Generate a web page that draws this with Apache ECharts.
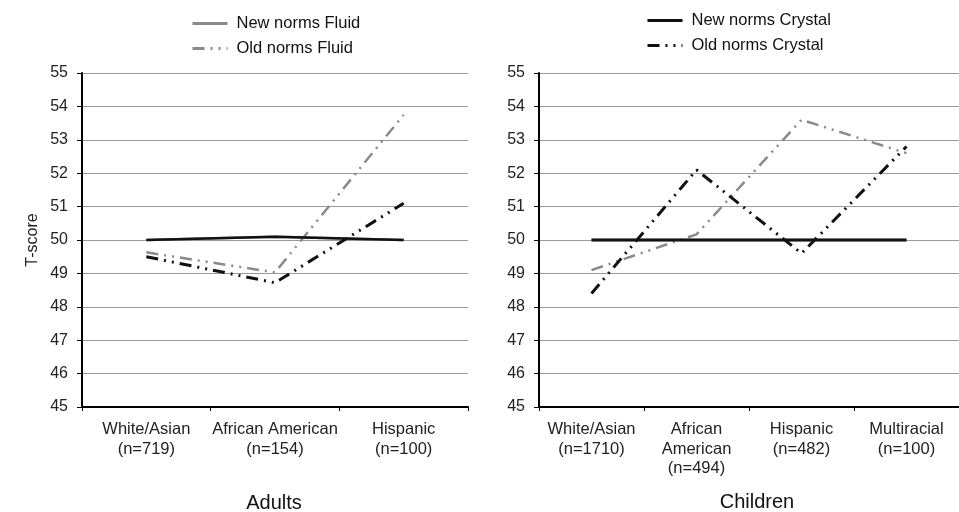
<!DOCTYPE html>
<html>
<head>
<meta charset="utf-8">
<script src="https://cdn.jsdelivr.net/npm/echarts@6/dist/echarts.min.js"></script>
<style>
  html, body { margin: 0; padding: 0; background: #fff; }
  #main { width: 959px; height: 512px; }
</style>
</head>
<body>
<div id="main"></div>
<script>
// categories
const adultCats = ['White/Asian\n(n=719)', 'African American\n(n=154)', 'Hispanic\n(n=100)'];
const childCats = ['White/Asian\n(n=1710)', 'African\nAmerican\n(n=494)', 'Hispanic\n(n=482)', 'Multiracial\n(n=100)'];

// adults
const adultNewFluid = [50, 50.1, 50];
const adultOldFluid = [49.63, 49.03, 53.75];
const adultNewCrystal = [50, 50.1, 50];
const adultOldCrystal = [49.5, 48.72, 51.1];

// children
const childNewFluid = [50, 50, 50, 50];
const childOldFluid = [49.1, 50.17, 53.6, 52.6];
const childNewCrystal = [50, 50, 50, 50];
const childOldCrystal = [48.4, 52.1, 49.6, 52.8];

const yTicks = [45, 55, 1];

const chart = echarts.init(document.getElementById('main'));

const gray = '#8a8a8a';
const black = '#111';
const dashDot = [12, 6, 2, 6, 2, 6];
const font = 'Liberation Sans, Arial, sans-serif';

function yAxis(gridIndex, withName) {
  return {
    type: 'value', gridIndex: gridIndex,
    min: yTicks[0], max: yTicks[1], interval: yTicks[2],
    name: withName ? 'T-score' : '',
    nameLocation: 'middle', nameGap: 41, nameRotate: 90,
    nameTextStyle: { color: '#222', fontSize: 16, fontFamily: font },
    axisLine: { show: true, lineStyle: { color: '#000', width: 2 } },
    axisTick: { show: true, length: 5, lineStyle: { color: '#000', width: 1 } },
    axisLabel: { color: '#222', fontSize: 16, fontFamily: font, margin: 14 },
    splitLine: { show: true, lineStyle: { color: '#9a9a9a', width: 1 } }
  };
}

function xAxis(gridIndex, cats) {
  return {
    type: 'category', gridIndex: gridIndex, data: cats, boundaryGap: true,
    axisLine: { show: true, lineStyle: { color: '#000', width: 2 } },
    axisTick: { show: true, length: 4, lineStyle: { color: '#000', width: 1 } },
    axisLabel: { color: '#222', fontSize: 16.5, fontFamily: font, margin: 13, lineHeight: 19.5, interval: 0 }
  };
}

function line(name, data, idx, color, width, type, z) {
  return {
    name: name, type: 'line', data: data, xAxisIndex: idx, yAxisIndex: idx,
    symbol: 'none', z: z,
    lineStyle: { color: color, width: width, type: type },
    itemStyle: { color: color }
  };
}

function legend(names, left, top) {
  return {
    data: names, orient: 'vertical', left: left, top: top,
    itemWidth: 35, itemHeight: 14, itemGap: 8,
    itemStyle: { opacity: 0 },
    lineStyle: { width: 3 },
    textStyle: { fontSize: 16.5, color: '#111', fontFamily: font, padding: [0, 0, 0, 4] }
  };
}

const option = {
  animation: false,
  backgroundColor: '#fff',
  title: [
    { text: 'Adults', left: 274, top: 493, textAlign: 'center', padding: 0,
      textStyle: { fontSize: 20, fontWeight: 'normal', color: '#111', fontFamily: font } },
    { text: 'Children', left: 757, top: 492, textAlign: 'center', padding: 0,
      textStyle: { fontSize: 20, fontWeight: 'normal', color: '#111', fontFamily: font } }
  ],
  legend: [
    legend(['New norms Fluid', 'Old norms Fluid'], 186, 10),
    legend(['New norms Crystal', 'Old norms Crystal'], 641, 7)
  ],
  grid: [
    { left: 82, top: 73, width: 386, height: 334 },
    { left: 539, top: 73, width: 428, height: 334 }
  ],
  xAxis: [xAxis(0, adultCats), xAxis(1, childCats)],
  yAxis: [yAxis(0, true), yAxis(1, false)],
  series: [
    line('New norms Fluid', adultNewFluid, 0, gray, 2.5, 'solid', 2),
    line('Old norms Fluid', adultOldFluid, 0, gray, 2.5, dashDot, 2),
    line('New norms Crystal', adultNewCrystal, 0, black, 2.5, 'solid', 3),
    line('Old norms Crystal', adultOldCrystal, 0, black, 3, dashDot, 3),
    line('New norms Fluid', childNewFluid, 1, gray, 2.5, 'solid', 2),
    line('Old norms Fluid', childOldFluid, 1, gray, 2.5, dashDot, 2),
    line('New norms Crystal', childNewCrystal, 1, black, 3, 'solid', 3),
    line('Old norms Crystal', childOldCrystal, 1, black, 3, dashDot, 3)
  ]
};

chart.setOption(option);
</script>
</body>
</html>
